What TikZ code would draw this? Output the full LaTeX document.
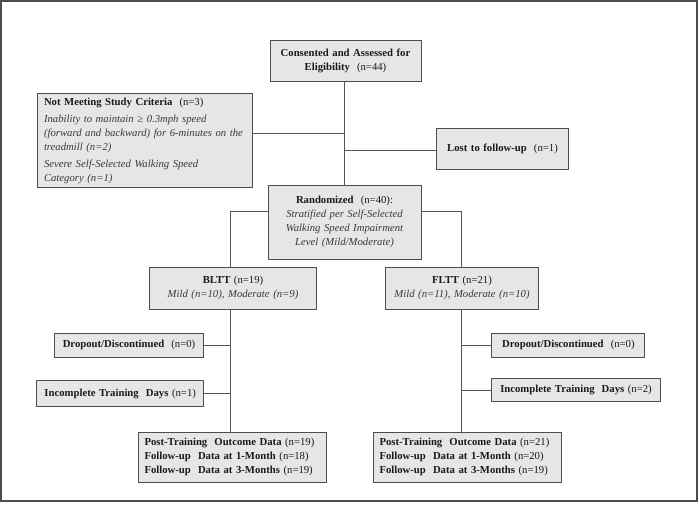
\documentclass[tikz,border=0pt]{standalone}
\usepackage{fontspec}
\setmainfont{Liberation Serif}
\definecolor{boxfill}{HTML}{E6E6E6}
\definecolor{boxline}{HTML}{4D4D4D}
\definecolor{conn}{HTML}{555555}
\definecolor{txt}{HTML}{1A1A1A}
\definecolor{ital}{HTML}{3A3A3A}
\tikzset{
  box/.style={draw=boxline, fill=boxfill, line width=0.9pt, inner sep=0pt,
    font=\fontsize{10.7}{14}\selectfont, text=txt},
  conn/.style={draw=conn, line width=0.9pt},
  frame/.style={draw=boxline, line width=1.3pt}
}
\newcommand{\itx}[1]{{\itshape\color{ital}#1}}
\begin{document}
\begin{tikzpicture}[x=1pt,y=-1pt]
\useasboundingbox[fill=white] (0,0) rectangle (699,504);
\draw[frame] (1,1) rectangle (697,501);

\node[box, minimum width=151, minimum height=41, text width=145, align=center] (cons) at (345.5,60.5)
  {\textbf{Consented and Assessed for}\\\textbf{Eligibility}~ (n=44)};
\node[box, minimum width=215, minimum height=94, text width=202, align=left] (notm) at (145,140.5)
  {\textbf{Not Meeting Study Criteria}~ (n=3)\\[3pt]
   \itx{Inability to maintain ≥ 0.3mph speed}\\
   \itx{(forward and backward) for 6-minutes on the}\\
   \itx{treadmill (n=2)}\\[3pt]
   \itx{Severe Self-Selected Walking Speed}\\
   \itx{Category (n=1)}};
\node[box, minimum width=132, minimum height=41, text width=126, align=center] (lost) at (502.5,148.5)
  {\textbf{Lost to follow-up}~ (n=1)};
\node[box, minimum width=153, minimum height=74, text width=147, align=center] (rand) at (344.5,222)
  {\textbf{Randomized}~ (n=40):\\
   \itx{Stratified per Self-Selected}\\
   \itx{Walking Speed Impairment}\\
   \itx{Level (Mild/Moderate)}};
\node[box, minimum width=167, minimum height=42, text width=161, align=center] (bltt) at (233,288.3)
  {\textbf{BLTT} (n=19)\\\itx{Mild (n=10), Moderate (n=9)}};
\node[box, minimum width=153, minimum height=42, text width=147, align=center] (fltt) at (462,288.3)
  {\textbf{FLTT} (n=21)\\\itx{Mild (n=11), Moderate (n=10)}};
\node[box, minimum width=149, minimum height=24, text width=143, align=center] (dropL) at (129,345.3)
  {\textbf{Dropout/Discontinued}~ (n=0)};
\node[box, minimum width=167, minimum height=26, text width=161, align=center] (incL) at (120.2,393.7)
  {\textbf{Incomplete Training~ Days} (n=1)};
\node[box, minimum width=153, minimum height=24, text width=147, align=center] (dropR) at (568.4,345)
  {\textbf{Dropout/Discontinued}~ (n=0)};
\node[box, minimum width=168.5, minimum height=22.6, text width=162, align=center] (incR) at (576,390)
  {\textbf{Incomplete Training~ Days} (n=2)};
\node[box, minimum width=188, minimum height=50, text width=176, align=left] (postL) at (232.5,457.3)
  {\textbf{Post-Training~ Outcome Data} (n=19)\\
   \textbf{Follow-up~ Data at 1-Month} (n=18)\\
   \textbf{Follow-up~ Data at 3-Months} (n=19)};
\node[box, minimum width=188, minimum height=50, text width=176, align=left] (postR) at (467.5,457.3)
  {\textbf{Post-Training~ Outcome Data} (n=21)\\
   \textbf{Follow-up~ Data at 1-Month} (n=20)\\
   \textbf{Follow-up~ Data at 3-Months} (n=19)};

\coordinate (t1) at (344,133);
\coordinate (t2) at (344,150);
\coordinate (bl) at (230,211.7);
\coordinate (br) at (461,211.7);

\draw[conn] (cons.south -| t1) -- (rand.north -| t1);
\draw[conn] (notm.east |- t1) -- (t1);
\draw[conn] (t2) -- (lost.west |- t2);
\draw[conn] (rand.west |- bl) -- (bl) -- (bltt.north -| bl);
\draw[conn] (rand.east |- br) -- (br) -- (fltt.north -| br);
\draw[conn] (bltt.south -| bl) -- (postL.north -| bl);
\draw[conn] (fltt.south -| br) -- (postR.north -| br);
\draw[conn] (dropL.east) -- (dropL.east -| bl);
\draw[conn] (incL.east) -- (incL.east -| bl);
\draw[conn] (dropR.west) -- (dropR.west -| br);
\draw[conn] (incR.west) -- (incR.west -| br);
\end{tikzpicture}
\end{document}
